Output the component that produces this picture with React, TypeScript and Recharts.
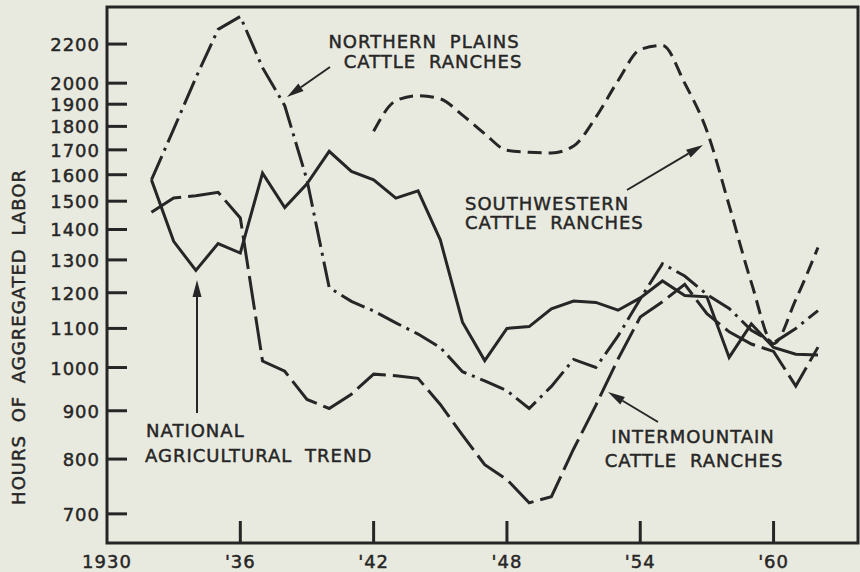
import React from 'react';
import { LineChart, Line, XAxis, YAxis, ReferenceArea, ReferenceLine } from 'recharts';

const INK = '#262626';
const PAPER = '#e9eadf';
const FONT = "'DejaVu Sans', sans-serif";

const years = [
  1932, 1933, 1934, 1935, 1936, 1937, 1938, 1939, 1940, 1941, 1942,
  1943, 1944, 1945, 1946, 1947, 1948, 1949, 1950, 1951, 1952, 1953,
  1954, 1955, 1956, 1957, 1958, 1959, 1960, 1961, 1962,
];

// hours of aggregated labor
const national = [
  1580, 1360, 1267, 1353, 1322, 1606, 1477, 1565, 1694, 1613, 1580,
  1511, 1538, 1365, 1117, 1017, 1100, 1105, 1154, 1176, 1172, 1150,
  1185, 1235, 1192, 1188, 1025, 1112, 1050, 1033, 1031,
];
const northernPlains = [
  1580, 1788, 2027, 2280, 2353, 2077, 1893, 1580, 1215, 1175, 1148,
  1115, 1085, 1050, 990, 968, 945, 905, 955, 1020, 1000, 1080,
  1182, 1288, 1250, 1195, 1155, 1095, 1062, 1100, 1149,
];
const southwestern = [
  null, null, null, null, null, null, null, null, null, null, 1779,
  1916, 1940, 1925, 1850, 1768, 1698, 1690, 1687, 1716, 1840, 2012,
  2171, 2193, 2000, 1780, 1485, 1230, 1060, 1180, 1340,
];
const intermountain = [
  1460, 1512, 1520, 1533, 1440, 1016, 991, 925, 905, 937, 984,
  980, 974, 914, 848, 789, 761, 719, 730, 820, 912, 1021,
  1131, 1174, 1225, 1140, 1091, 1059, 1040, 956, 1051,
];

const yTicks = [700, 800, 900, 1000, 1100, 1200, 1300, 1400, 1500, 1600, 1700, 1800, 1900, 2000, 2200];
const xTicks = [1930, 1936, 1942, 1948, 1954, 1960];

const data = years.map((year, i) => ({
  year,
  national: national[i],
  northernPlains: northernPlains[i],
  southwestern: southwestern[i],
  intermountain: intermountain[i],
}));

const textStyle = {
  fontFamily: FONT,
  fontSize: 18,
  letterSpacing: 1,
  wordSpacing: 6,
  fill: INK,
  stroke: INK,
  strokeWidth: 0.45,
};

const YTick = ({ x, y, payload }: any) => (
  <text x={x - 7} y={y + 7} textAnchor="end" style={textStyle}>
    {payload.value}
  </text>
);

const XTick = ({ x, y, payload }: any) => {
  const v = payload.value;
  const label = v === 1930 ? '1930' : `'${String(v).slice(2)}`;
  return (
    <g>
      {v !== 1930 && <line x1={x} x2={x} y1={y} y2={y - 22} stroke={INK} strokeWidth={3} />}
      <text x={x} y={y + 25} textAnchor="middle" style={textStyle}>
        {label}
      </text>
    </g>
  );
};

const Arrow = ({ from, to }: { from: [number, number]; to: [number, number] }) => {
  const dx = to[0] - from[0];
  const dy = to[1] - from[1];
  const len = Math.sqrt(dx * dx + dy * dy);
  const ux = dx / len;
  const uy = dy / len;
  const bx = to[0] - ux * 17;
  const by = to[1] - uy * 17;
  const pts = `${to[0]},${to[1]} ${bx - uy * 4.5},${by + ux * 4.5} ${bx + uy * 4.5},${by - ux * 4.5}`;
  return (
    <g>
      <line x1={from[0]} y1={from[1]} x2={bx} y2={by} stroke={INK} strokeWidth={2} />
      <polygon points={pts} fill={INK} />
    </g>
  );
};

const Label = ({ x, y, anchor = 'start', children }: any) => (
  <text x={x} y={y} textAnchor={anchor} style={textStyle}>
    {children}
  </text>
);

const App: React.FC = () => {
  return (
    <div style={{ position: 'absolute', left: 0, top: 0, width: 860, height: 572, background: PAPER }}>
      <LineChart width={860} height={572} data={data} margin={{ top: 7, right: 2, left: 0, bottom: 0 }}>
        <XAxis
          dataKey="year"
          type="number"
          domain={[1930, 1963.8]}
          ticks={xTicks}
          height={29}
          axisLine={false}
          tickLine={false}
          tickSize={0}
          tickMargin={0}
          tick={<XTick />}
          interval={0}
        />
        <YAxis
          type="number"
          scale="log"
          domain={[652, 2408]}
          allowDataOverflow
          ticks={yTicks}
          width={107}
          axisLine={false}
          tickLine={false}
          tickSize={0}
          tickMargin={0}
          tick={<YTick />}
          interval={0}
        />
        <ReferenceArea
          x1={1930}
          x2={1963.8}
          y1={652}
          y2={2408}
          fill="none"
          stroke={INK}
          strokeWidth={3}
          ifOverflow="visible"
        />
        {/* inward tick marks on the value axis */}
        {yTicks.map((v) => (
          <ReferenceLine
            key={`yt-${v}`}
            segment={[{ x: 1930, y: v }, { x: 1930.9, y: v }]}
            stroke={INK}
            strokeWidth={3}
            ifOverflow="visible"
          />
        ))}
        <Line
          type="linear"
          dataKey="national"
          stroke={INK}
          strokeWidth={3}
          dot={false}
          isAnimationActive={false}
        />
        <Line
          type="linear"
          dataKey="northernPlains"
          stroke={INK}
          strokeWidth={3}
          strokeDasharray="26 6 3 6"
          dot={false}
          isAnimationActive={false}
        />
        <Line
          type="monotone"
          dataKey="southwestern"
          stroke={INK}
          strokeWidth={3}
          strokeDasharray="14 7"
          dot={false}
          isAnimationActive={false}
        />
        <Line
          type="linear"
          dataKey="intermountain"
          stroke={INK}
          strokeWidth={3}
          strokeDasharray="34 7"
          dot={false}
          isAnimationActive={false}
        />
      </LineChart>

      {/* labels and arrows */}
      <svg width={860} height={572} style={{ position: 'absolute', left: 0, top: 0, pointerEvents: 'none' }}>
        <text
          x={25}
          y={337}
          transform="rotate(-90 25 337)"
          textAnchor="middle"
          style={textStyle}
        >
          HOURS OF AGGREGATED LABOR
        </text>

        <Label x={424} y={48} anchor="middle">NORTHERN PLAINS</Label>
        <Label x={433} y={68} anchor="middle">CATTLE RANCHES</Label>
        <Arrow from={[330, 67]} to={[287, 97]} />

        <Label x={465} y={210}>SOUTHWESTERN</Label>
        <Label x={465} y={229}>CATTLE RANCHES</Label>
        <Arrow from={[627, 190]} to={[703, 145]} />

        <Label x={146} y={437}>NATIONAL</Label>
        <Label x={145} y={462}>AGRICULTURAL TREND</Label>
        <Arrow from={[197, 413]} to={[197, 280]} />

        <Label x={693} y={443} anchor="middle">INTERMOUNTAIN</Label>
        <Label x={694} y={467} anchor="middle">CATTLE RANCHES</Label>
        <Arrow from={[658, 422]} to={[608, 392]} />
      </svg>
    </div>
  );
};

export default App;
